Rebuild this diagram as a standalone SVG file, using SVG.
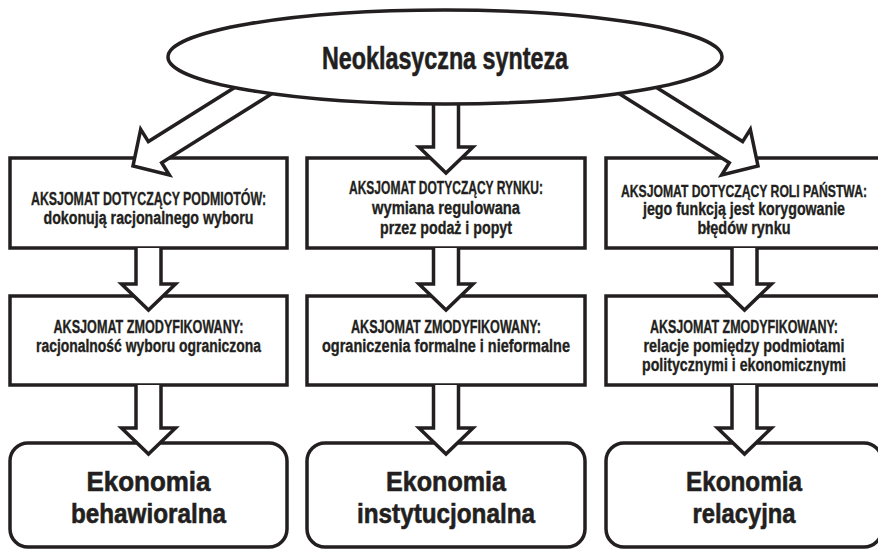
<svg xmlns="http://www.w3.org/2000/svg" width="878" height="551" viewBox="0 0 878 551">
<style>
.box{fill:#fff;stroke:#231f20;stroke-width:3.5}
.arr{fill:#fff;stroke:#231f20;stroke-width:3.5;stroke-linejoin:miter}
text{font-family:"Liberation Sans Narrow","Liberation Sans",Arial,sans-serif;font-weight:bold;fill:#231f20;stroke:#231f20;text-anchor:middle}
.s{font-size:17.5px;stroke-width:0.35}
.r{font-size:15.2px;stroke-width:0.3}
.q{font-size:13.5px;stroke-width:0.28}
.b{font-size:28px;stroke-width:0.6}
.t{font-size:32px;stroke-width:0.6}
</style>
<rect width="878" height="551" fill="#fff"/>
<g id="n1">
<rect class="box" x="10" y="158" width="277" height="90"/>
<text class="s" x="148.5" y="205" textLength="235" lengthAdjust="spacingAndGlyphs">AKSJOMAT DOTYCZĄCY PODMIOTÓW:</text>
<text class="s" x="148.5" y="224" textLength="210" lengthAdjust="spacingAndGlyphs">dokonują racjonalnego wyboru</text>
</g>
<g id="n2">
<rect class="box" x="307" y="158" width="278" height="90"/>
<text class="s" x="446" y="194" textLength="194" lengthAdjust="spacingAndGlyphs">AKSJOMAT DOTYCZĄCY RYNKU:</text>
<text class="s" x="446" y="214" textLength="148" lengthAdjust="spacingAndGlyphs">wymiana regulowana</text>
<text class="s" x="446" y="234" textLength="132" lengthAdjust="spacingAndGlyphs">przez podaż i popyt</text>
</g>
<g id="n3">
<rect class="box" x="606" y="158" width="276" height="90"/>
<text class="q" transform="translate(744,196.5) scale(1,1.25)" textLength="246" lengthAdjust="spacingAndGlyphs">AKSJOMAT DOTYCZĄCY ROLI PAŃSTWA:</text>
<text class="r" transform="translate(744,215) scale(1,1.15)" textLength="202" lengthAdjust="spacingAndGlyphs">jego funkcją jest korygowanie</text>
<text class="r" transform="translate(744,234) scale(1,1.15)" textLength="93" lengthAdjust="spacingAndGlyphs">błędów rynku</text>
</g>
<g id="n4">
<rect class="box" x="10" y="296" width="277" height="89"/>
<text class="s" x="148.5" y="333" textLength="190" lengthAdjust="spacingAndGlyphs">AKSJOMAT ZMODYFIKOWANY:</text>
<text class="s" x="148.5" y="352" textLength="225" lengthAdjust="spacingAndGlyphs">racjonalność wyboru ograniczona</text>
</g>
<g id="n5">
<rect class="box" x="307" y="296" width="278" height="89"/>
<text class="s" x="446" y="333" textLength="190" lengthAdjust="spacingAndGlyphs">AKSJOMAT ZMODYFIKOWANY:</text>
<text class="s" x="446" y="352" textLength="248" lengthAdjust="spacingAndGlyphs">ograniczenia formalne i nieformalne</text>
</g>
<g id="n6">
<rect class="box" x="606" y="296" width="276" height="89"/>
<text class="r" transform="translate(744,333) scale(1,1.15)" textLength="188" lengthAdjust="spacingAndGlyphs">AKSJOMAT ZMODYFIKOWANY:</text>
<text class="r" transform="translate(744,352) scale(1,1.15)" textLength="201" lengthAdjust="spacingAndGlyphs">relacje pomiędzy podmiotami</text>
<text class="r" transform="translate(744,371) scale(1,1.15)" textLength="204" lengthAdjust="spacingAndGlyphs">politycznymi i ekonomicznymi</text>
</g>
<g id="n7">
<rect class="box" x="10" y="443" width="277" height="104" rx="18"/>
<text class="b" x="148.5" y="491" textLength="124" lengthAdjust="spacingAndGlyphs">Ekonomia</text>
<text class="b" x="148.5" y="523" textLength="155" lengthAdjust="spacingAndGlyphs">behawioralna</text>
</g>
<g id="n8">
<rect class="box" x="307" y="443" width="278" height="104" rx="18"/>
<text class="b" x="446" y="491" textLength="120" lengthAdjust="spacingAndGlyphs">Ekonomia</text>
<text class="b" x="446" y="523" textLength="178" lengthAdjust="spacingAndGlyphs">instytucjonalna</text>
</g>
<g id="n9">
<rect class="box" x="606" y="443" width="276" height="104" rx="18"/>
<text class="b" x="744" y="491" textLength="116" lengthAdjust="spacingAndGlyphs">Ekonomia</text>
<text class="b" x="744" y="523" textLength="103" lengthAdjust="spacingAndGlyphs">relacyjna</text>
</g>
<g id="connectors">
<path class="arr" transform="translate(133,166) rotate(57.9)" d="M-12.5,-170 L-12.5,-26 L-27,-26 L0,0 L27,-26 L12.5,-26 L12.5,-170"/>
<path class="arr" transform="translate(758,166) rotate(-57.9)" d="M-12.5,-170 L-12.5,-26 L-27,-26 L0,0 L27,-26 L12.5,-26 L12.5,-170"/>
<path class="arr" d="M433.5,90 L433.5,147 L419,147 L446,173 L473,147 L458.5,147 L458.5,90"/>
<path class="arr" d="M136,248 L136,284 L121.5,284 L148.5,310 L175.5,284 L161,284 L161,248"/>
<path class="arr" d="M433.5,248 L433.5,284 L419,284 L446,310 L473,284 L458.5,284 L458.5,248"/>
<path class="arr" d="M732,248 L732,284 L717.5,284 L744.5,310 L771.5,284 L757,284 L757,248"/>
<path class="arr" d="M136,385 L136,428 L121.5,428 L148.5,454 L175.5,428 L161,428 L161,385"/>
<path class="arr" d="M433.5,385 L433.5,428 L419,428 L446,454 L473,428 L458.5,428 L458.5,385"/>
<path class="arr" d="M732,385 L732,428 L717.5,428 L744.5,454 L771.5,428 L757,428 L757,385"/>
</g>
<g id="n0">
<ellipse class="box" cx="445" cy="57" rx="277" ry="47"/>
<text class="t" x="445" y="69" textLength="246" lengthAdjust="spacingAndGlyphs">Neoklasyczna synteza</text>
</g>
</svg>
